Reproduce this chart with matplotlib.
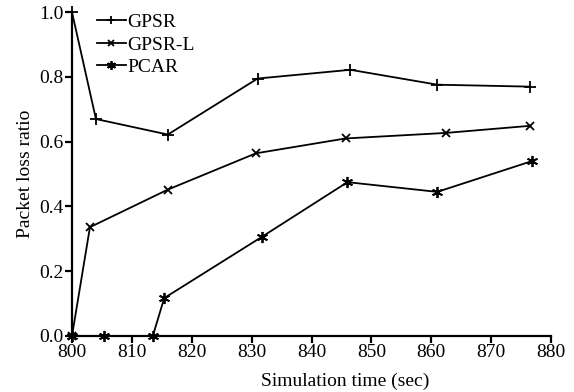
import numpy as np
import matplotlib
matplotlib.use('Agg')
import matplotlib.pyplot as plt

# values
gpsr_t = [800, 804, 816, 831, 846.5, 861, 876.5]
gpsr_y = [1.0, 0.67, 0.622, 0.795, 0.822, 0.776, 0.770]

gpsrl_t = [800, 803, 816, 830.7, 845.7, 862.4, 876.5]
gpsrl_y = [0.0, 0.336, 0.452, 0.564, 0.610, 0.627, 0.649]

pcar_t = [800, 805.4, 813.5, 815.4, 831.7, 846, 861, 876.8]
pcar_y = [0.0, 0.0, 0.0, 0.117, 0.306, 0.475, 0.445, 0.54]

xticks = [800, 810, 820, 830, 840, 850, 860, 870, 880]
yticks = [0.0, 0.2, 0.4, 0.6, 0.8, 1.0]

plt.rcParams['font.family'] = ['Liberation Serif', 'DejaVu Serif']
plt.rcParams['font.size'] = 14

fig = plt.figure(figsize=(5.74, 3.92), dpi=100)
ax = fig.add_axes([0.1254, 0.1429, 0.8346, 0.8261])

ax.plot(gpsr_t, gpsr_y, color='black', lw=1.3, marker='+', ms=8, mew=1.3, label='GPSR', clip_on=False)
ax.plot(gpsrl_t, gpsrl_y, color='black', lw=1.3, marker='x', ms=6, mew=1.3, label='GPSR-L', clip_on=False)
ax.plot(pcar_t, pcar_y, color='black', lw=1.3, marker=(6, 2, 0), ms=8, mew=1.3, label='PCAR', clip_on=False)

ax.set_xlim(800, 880)
ax.set_ylim(0, 1.0)
ax.set_xticks(xticks)
ax.set_yticks(yticks)
ax.set_yticklabels(['%.1f' % v for v in yticks])
for s in ['top', 'right']:
    ax.spines[s].set_visible(False)
for s in ['left', 'bottom']:
    ax.spines[s].set_linewidth(1.6)
ax.tick_params(direction='out', length=5, width=1.6, pad=1)

ax.set_xlabel('Simulation time (sec)')
ax.xaxis.set_label_coords(0.57, -0.14, transform=ax.transAxes)
ax.xaxis.label.set_va('center')
ax.set_ylabel('Packet loss ratio', labelpad=4)

ax.legend(loc='upper left', bbox_to_anchor=(0.035, 1.02), frameon=False,
          handlelength=1.5, handletextpad=0.1, labelspacing=0.25, borderaxespad=0,
          markerscale=0.8)

fig.savefig('out.png', dpi=100)
